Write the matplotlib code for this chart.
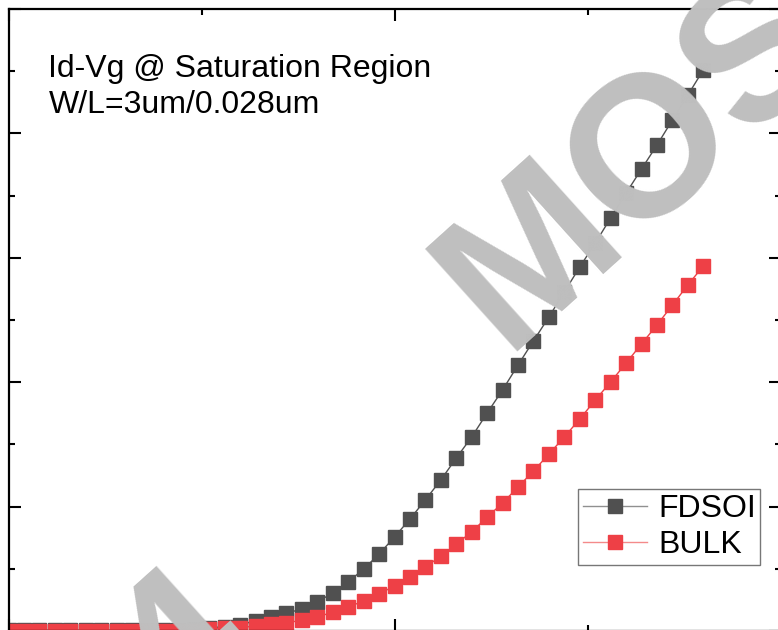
import numpy as np
import matplotlib.pyplot as plt
from matplotlib.ticker import MultipleLocator

# gate voltage sweep (V), 0.02 V step
vg = np.round(np.arange(0, 0.901, 0.02), 2)

# drain current (mA)
id_fdsoi = [0.003, 0.003, 0.003, 0.003, 0.003, 0.003, 0.003, 0.003, 0.003, 0.003,
            0.003, 0.006, 0.008, 0.012, 0.018, 0.026, 0.040, 0.056, 0.072, 0.088,
            0.117, 0.153, 0.197, 0.249, 0.309, 0.378, 0.450, 0.527, 0.607, 0.695,
            0.780, 0.876, 0.969, 1.069, 1.166, 1.262, 1.363, 1.463, 1.559, 1.660,
            1.760, 1.857, 1.953, 2.054, 2.154, 2.255]
id_bulk = [0.002, 0.002, 0.002, 0.002, 0.002, 0.002, 0.002, 0.002, 0.002, 0.002,
           0.002, 0.002, 0.002, 0.008, 0.012, 0.014, 0.020, 0.028, 0.032, 0.044,
           0.056, 0.076, 0.096, 0.121, 0.149, 0.181, 0.217, 0.257, 0.301, 0.350,
           0.398, 0.458, 0.514, 0.579, 0.643, 0.711, 0.780, 0.852, 0.928, 1.001,
           1.077, 1.154, 1.230, 1.310, 1.391, 1.467]

labels = ["FDSOI", "BULK"]
title_lines = ["Id-Vg @ Saturation Region", "W/L=3um/0.028um"]

plt.rcParams['font.family'] = ['Liberation Sans', 'DejaVu Sans']

W, H = 778, 630
fig = plt.figure(figsize=(W / 100, H / 100), dpi=100)
ax = fig.add_axes([8.5 / W, -1 / H, 772 / W, 622 / H])

dark, red = '#505050', '#ee4046'
ax.plot(vg, id_fdsoi, '-s', color=dark, lw=1.0, ms=9.5, mfc=dark, mec=dark,
        label=labels[0])
ax.plot(vg, id_bulk, '-s', color=red, lw=1.0, ms=9.5, mfc=red, mec=red,
        label=labels[1])

ax.set_xlim(0, 1.0)
ax.set_ylim(0, 2.5)
ax.xaxis.set_major_locator(MultipleLocator(0.5))
ax.xaxis.set_minor_locator(MultipleLocator(0.25))
ax.yaxis.set_major_locator(MultipleLocator(0.5))
ax.yaxis.set_minor_locator(MultipleLocator(0.25))
ax.tick_params(which='both', direction='in', top=True, right=True,
               labelbottom=False, labelleft=False, width=1.5)
ax.tick_params(which='major', length=8.5)
ax.tick_params(which='minor', length=4.5)
for s in ax.spines.values():
    s.set_linewidth(1.6)

ax.text(40 / 772, 1 - 60 / 622, title_lines[0], transform=ax.transAxes,
        fontsize=23, va='center', ha='left')
ax.text(40 / 772, 1 - 96 / 622, title_lines[1], transform=ax.transAxes,
        fontsize=23, va='center', ha='left')

leg = ax.legend(loc='lower right', bbox_to_anchor=(752 / 772, 66 / 622),
                fontsize=23, frameon=True, fancybox=False, handlelength=2.0,
                handletextpad=0.35, borderpad=0.15, labelspacing=0.2,
                borderaxespad=0)
leg.get_frame().set_edgecolor('#555555')
leg.get_frame().set_linewidth(1.0)
for h, c in zip(leg.get_lines(), ['#909090', '#f48a8a']):
    h.set_color(c)

# gray watermark drawn over the data
fig.text(640 / W, 1 - 160 / H, "MOS", fontsize=145, fontweight='bold',
         color='#bfbfbf', rotation=42, ha='center', va='center',
         rotation_mode='anchor', zorder=10)
fig.text(180 / W, 1 - 728 / H, "4", fontsize=145, fontweight='bold',
         color='#bfbfbf', rotation=42, ha='left', va='baseline',
         rotation_mode='anchor', zorder=10)

fig.savefig('out.png', dpi=100)
